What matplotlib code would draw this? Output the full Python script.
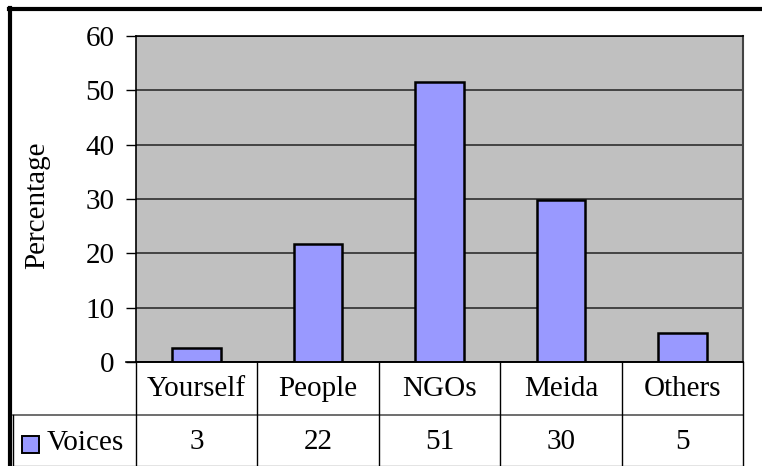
import matplotlib
matplotlib.use("Agg")
import matplotlib.pyplot as plt
from matplotlib.lines import Line2D
from matplotlib.patches import Rectangle

categories = ["Yourself", "People", "NGOs", "Meida", "Others"]
bar_values = [2.6, 21.8, 51.6, 29.8, 5.3]
table_labels = ["3", "22", "51", "30", "5"]
series_name = "Voices"
y_ticks = [0, 10, 20, 30, 40, 50, 60]

plt.rcParams['font.family'] = ['Liberation Serif', 'DejaVu Serif']
FS = 21

W, H = 762, 466
fig = plt.figure(figsize=(W / 100, H / 100), dpi=100)

def fx(x):
    return x / W

def fy(y):
    return 1 - y / H

L, R, T, B = 136, 743, 36, 362
ax = fig.add_axes([fx(L), fy(B), fx(R) - fx(L), fy(T) - fy(B)])
ax.set_facecolor("#C0C0C0")
bar_color = "#9999FF"
x = list(range(len(categories)))
ax.bar(x, bar_values, width=0.4, color=bar_color, edgecolor="black", linewidth=1.8, zorder=3)
ax.set_xlim(-0.5, len(categories) - 0.5)
ax.set_ylim(0, 60)
ax.set_yticks(y_ticks)
ax.set_yticklabels([str(v) for v in y_ticks], fontsize=FS)
ax.tick_params(axis="y", direction="out", length=7.5, width=1, pad=8, colors="black")
ax.set_xticks([])
ax.yaxis.grid(True, color="#222222", linewidth=1.1, zorder=1)
ax.set_axisbelow(True)
for s in ["left", "top", "bottom"]:
    ax.spines[s].set_color("black")
    ax.spines[s].set_linewidth(1.2)
ax.spines["right"].set_color("#444444")
ax.spines["right"].set_linewidth(1.5)
fig.text(fx(37), fy(205), "Percentage", rotation=90, ha="center", va="center", fontsize=FS)

def hline(x0, x1, y, lw=1.0, c="black"):
    fig.add_artist(Line2D([fx(x0), fx(x1)], [fy(y), fy(y)], color=c, lw=lw))

def vline(x, y0, y1, lw=1.0, c="black"):
    fig.add_artist(Line2D([fx(x), fx(x)], [fy(y0), fy(y1)], color=c, lw=lw))

cw = (R - L) / len(categories)
hline(126, R, B, lw=1.2)
hline(13, R, 415, lw=1.2, c="#555555")
hline(13, R, 465.5, lw=1.0, c="#777777")
vline(13, 415, 466, lw=1.0)
for i in range(len(categories) + 1):
    vline(L + i * cw, B, 466, lw=1.0)
for i, (cat, lab) in enumerate(zip(categories, table_labels)):
    cx = L + (i + 0.5) * cw
    fig.text(fx(cx), fy(389), cat, ha="center", va="center", fontsize=FS)
    fig.text(fx(cx), fy(442), lab, ha="center", va="center", fontsize=FS)

fig.add_artist(Rectangle((fx(22), fy(453)), fx(17), fy(436) - fy(453),
                         facecolor=bar_color, edgecolor="black", lw=1.4))
fig.text(fx(47), fy(443), series_name, ha="left", va="center", fontsize=FS)

hline(9, W, 9, lw=3)
vline(10, 8, 466, lw=3)

fig.savefig("out.png", dpi=100)
